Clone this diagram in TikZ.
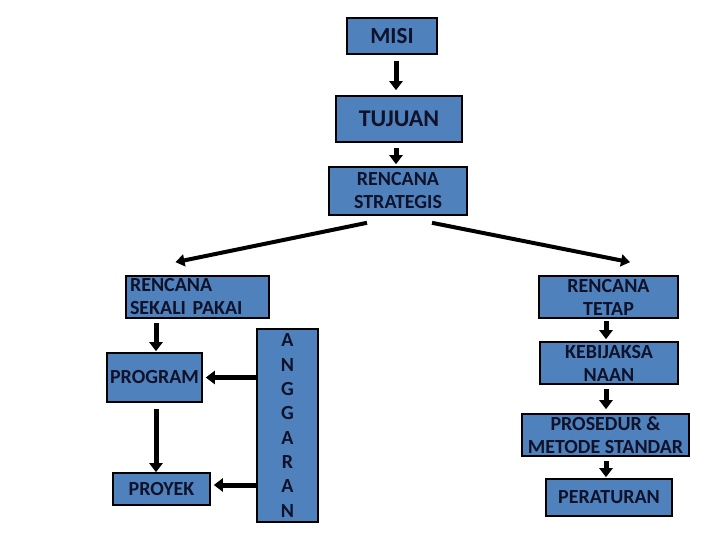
\documentclass[tikz,border=0pt]{standalone}
\usepackage{fontspec}
\setmainfont{Carlito}
\usetikzlibrary{arrows.meta,calc}
\definecolor{boxblue}{HTML}{4F81BD}
\definecolor{txt}{HTML}{10122A}
\begin{document}
\begin{tikzpicture}[x=1pt,y=-1pt,
  bx/.style={draw=black,line width=1.6pt,fill=boxblue,text=txt,font=\bfseries\fontsize{20}{23}\selectfont,align=center,inner sep=0pt},
  arr/.style={draw=black,line width=5pt,-{Triangle[width=13pt,length=9pt]}},
  arrthin/.style={draw=black,line width=4pt,-{Triangle[width=12pt,length=9pt]}}]
\useasboundingbox (0,0) rectangle (720,540);
\node[bx,minimum width=90pt,minimum height=36pt,font=\bfseries\fontsize{23}{23}\selectfont] (misi) at (392,36) {MISI};
\node[bx,minimum width=126pt,minimum height=46pt,font=\bfseries\fontsize{24}{23}\selectfont] (tujuan) at (399,119) {TUJUAN};
\node[bx,minimum width=138pt,minimum height=48pt] (strat) at (398,191) {RENCANA\\STRATEGIS};
\node[bx,minimum width=143pt,minimum height=42pt,text width=135pt,align=left] (sekali) at (197.5,297) {RENCANA\\SEKALI PAKAI};
\node[bx,minimum width=139pt,minimum height=42pt] (tetap) at (608.5,297) {RENCANA\\TETAP};
\node[bx,minimum width=138pt,minimum height=42pt] (keb) at (609,363) {KEBIJAKSA\\NAAN};
\node[bx,minimum width=167pt,minimum height=42pt] (pros) at (605.5,435) {PROSEDUR \&\\METODE STANDAR};
\node[bx,minimum width=126pt,minimum height=37pt] (perat) at (609,497.5) {PERATURAN};
\node[bx,minimum width=95pt,minimum height=49pt] (prog) at (154.5,377.5) {PROGRAM};
\node[bx,minimum width=97pt,minimum height=32pt] (proyek) at (161.5,489) {PROYEK};
\node[bx,minimum width=61pt,minimum height=193pt,font=\bfseries\fontsize{20}{24.3}\selectfont] (angg) at (287.5,425.5) {A\\N\\G\\G\\A\\R\\A\\N};
\coordinate (pn) at ($(prog.north)+(1.5,0)$);
\coordinate (ps) at ($(prog.south)+(1.5,0)$);
% arrows
\draw[arr,shorten <=6pt,shorten >=5pt] ($(misi.south)+(4,0)$) -- ($(tujuan.north)+(-3,0)$);
\draw[arr,shorten <=5pt,shorten >=2pt] ($(tujuan.south)+(-3,0)$) -- ($(strat.north)+(-2,0)$);
\draw[arrthin] ($(strat.south)+(-31,7)$) -- ($(sekali.north)+(-22,-13)$);
\draw[arrthin] ($(strat.south)+(34,7)$) -- ($(tetap.north)+(21.5,-13)$);
\draw[arr,shorten <=4pt,shorten >=1pt] (pn |- sekali.south) -- (pn);
\draw[arr,shorten <=6pt] (ps) -- (ps |- proyek.north);
\draw[arr,shorten >=3pt] (angg.west |- prog) -- (prog.east);
\draw[arr,shorten >=3pt] ($(angg.west |- proyek)+(0,-4)$) -- ($(proyek.east)+(0,-4)$);
\draw[arr,shorten <=2pt,shorten >=2pt] ($(tetap.south)+(-2.5,0)$) -- ($(keb.north)+(-3,0)$);
\draw[arr,shorten <=4pt,shorten >=4pt] ($(keb.south)+(-3,0)$) -- ($(pros.north)+(0.5,0)$);
\draw[arr,shorten <=4pt,shorten >=1pt] ($(pros.south)+(0.5,0)$) -- ($(perat.north)+(-3,0)$);
\end{tikzpicture}
\end{document}
